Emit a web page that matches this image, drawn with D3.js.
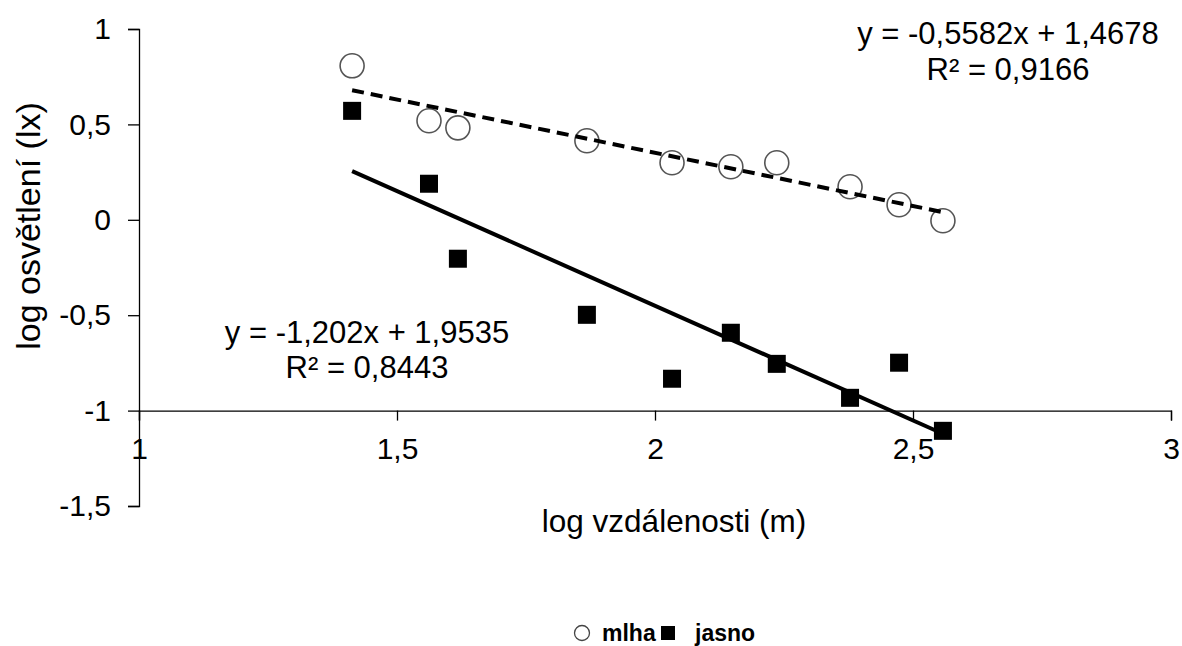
<!DOCTYPE html>
<html>
<head>
<meta charset="utf-8">
<script src="https://cdn.jsdelivr.net/npm/d3@7"></script>
<style>
  body { margin: 0; background: #fff; }
  text { font-family: "Liberation Sans", Arial, sans-serif; fill: #000; }
</style>
</head>
<body>
<div class="container"></div>
<script>
const w = 1182;
const h = 646;

// log distance (m)
const xMlha = [1.413, 1.562, 1.618, 1.868, 2.033, 2.147, 2.236, 2.378, 2.473, 2.558];
const yMlha = [0.807, 0.519, 0.482, 0.414, 0.299, 0.278, 0.299, 0.173, 0.079, -0.005];
const xJasno = [1.413, 1.562, 1.618, 1.868, 2.033, 2.147, 2.236, 2.378, 2.473, 2.558];
const yJasno = [0.571, 0.189, -0.204, -0.498, -0.833, -0.592, -0.755, -0.933, -0.749, -1.106];

// trendline coefficients [slope, intercept]
const fitMlha = [-0.5582, 1.4678];
const fitJasno = [-1.202, 1.9535];

const xTicks = [1, 1.5, 2, 2.5, 3];
const yTicks = [1, 0.5, 0, -0.5, -1, -1.5];
const legendNames = ['mlha', 'jasno'];

let svg = null;
const fmt = (v) => String(v).replace('.', ',');

window.onload = function () {
  setSvg();
  draw();
};

function setSvg() {
  svg = d3.select('.container')
    .append('svg')
    .attr('width', w)
    .attr('height', h);
}

function draw() {
  const x = d3.scaleLinear().domain([1, 3]).range([139, 1171]);
  const y = d3.scaleLinear().domain([-1.5, 1]).range([506, 29]);

  // y axis
  const yAxis = svg.append('g')
    .attr('transform', 'translate(' + x(1) + ',0)')
    .call(d3.axisLeft(y).tickValues(yTicks).tickFormat(fmt).tickSizeOuter(0).tickSize(11).tickPadding(17));

  // x axis crossing at y = -1
  const xAxis = svg.append('g')
    .attr('transform', 'translate(0,' + y(-1) + ')')
    .call(d3.axisBottom(x).tickValues(xTicks).tickFormat(fmt).tickSizeOuter(0).tickSize(10).tickPadding(17));

  [xAxis, yAxis].forEach((g) => {
    g.select('.domain').attr('stroke', '#000').attr('stroke-width', 1.3);
    g.selectAll('.tick line').attr('stroke', '#000').attr('stroke-width', 1.3);
    g.selectAll('.tick text')
      .attr('font-size', 30)
      .attr('font-family', '"Liberation Sans", Arial, sans-serif')
      .attr('fill', '#000');
  });

  // axis titles
  svg.append('text')
    .attr('x', 674).attr('y', 532)
    .attr('text-anchor', 'middle')
    .attr('font-size', 31.5)
    .text('log vzdálenosti (m)');

  svg.append('text')
    .attr('transform', 'translate(40,226) rotate(-90)')
    .attr('text-anchor', 'middle')
    .attr('font-size', 34)
    .text('log osvětlení (lx)');

  // markers
  const mlha = xMlha.map((d, i) => [d, yMlha[i]]);
  const jasno = xJasno.map((d, i) => [d, yJasno[i]]);

  svg.selectAll('rect.jasno')
    .data(jasno)
    .enter()
    .append('rect')
    .attr('class', 'jasno')
    .attr('x', (d) => x(d[0]) - 9)
    .attr('y', (d) => y(d[1]) - 9)
    .attr('width', 18)
    .attr('height', 18)
    .attr('fill', '#000');

  svg.selectAll('circle.mlha')
    .data(mlha)
    .enter()
    .append('circle')
    .attr('class', 'mlha')
    .attr('cx', (d) => x(d[0]))
    .attr('cy', (d) => y(d[1]))
    .attr('r', 12)
    .attr('fill', '#fff')
    .attr('stroke', '#555')
    .attr('stroke-width', 1.6);

  // trendlines
  const line = d3.line().x((d) => x(d[0])).y((d) => y(d[1]));
  const trend = (xs, fit) => d3.extent(xs).map((v) => [v, fit[0] * v + fit[1]]);

  svg.append('path')
    .attr('d', line(trend(xMlha, fitMlha)))
    .attr('fill', 'none')
    .attr('stroke', '#000')
    .attr('stroke-width', 4)
    .attr('stroke-dasharray', '12,7');

  svg.append('path')
    .attr('d', line(trend(xJasno, fitJasno)))
    .attr('fill', 'none')
    .attr('stroke', '#000')
    .attr('stroke-width', 4);

  // equations
  const eq = [
    { cx: 1008, y1: 44, y2: 80, fit: fitMlha, r2: '0,9166' },
    { cx: 367, y1: 343, y2: 378, fit: fitJasno, r2: '0,8443' },
  ];
  eq.forEach((e) => {
    svg.append('text')
      .attr('x', e.cx).attr('y', e.y1)
      .attr('text-anchor', 'middle')
      .attr('font-size', 31)
      .text('y = ' + fmt(e.fit[0]) + 'x + ' + fmt(e.fit[1]));
    svg.append('text')
      .attr('x', e.cx).attr('y', e.y2)
      .attr('text-anchor', 'middle')
      .attr('font-size', 31)
      .text('R² = ' + e.r2);
  });

  // legend
  const lg = svg.append('g').attr('transform', 'translate(0,633)');
  lg.append('circle')
    .attr('cx', 582).attr('cy', 0).attr('r', 7.5)
    .attr('fill', '#fff').attr('stroke', '#444').attr('stroke-width', 1.3);
  lg.append('text')
    .attr('x', 602).attr('y', 8)
    .attr('font-size', 23).attr('font-weight', 'bold')
    .text(legendNames[0]);
  lg.append('rect')
    .attr('x', 661).attr('y', -7).attr('width', 14).attr('height', 14)
    .attr('fill', '#000');
  lg.append('text')
    .attr('x', 695).attr('y', 8)
    .attr('font-size', 23).attr('font-weight', 'bold')
    .text(legendNames[1]);
}
</script>
</body>
</html>
